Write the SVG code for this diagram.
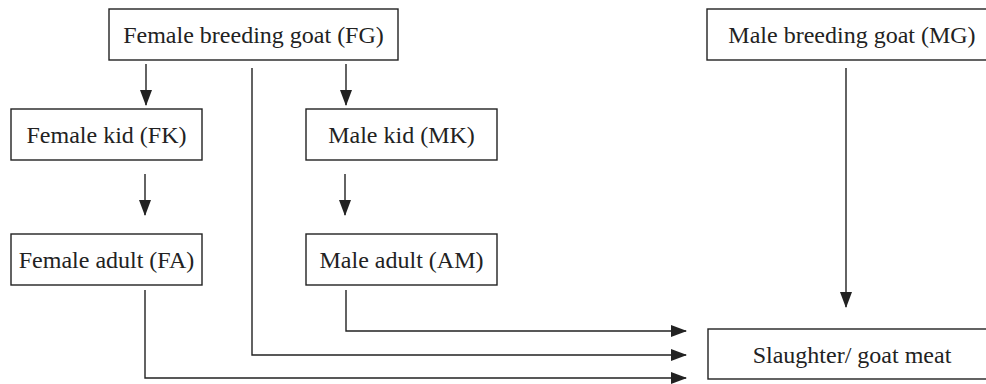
<svg xmlns="http://www.w3.org/2000/svg" width="986" height="384" viewBox="0 0 986 384">
<style>
.box{fill:#fff;stroke:#222;stroke-width:1.4}
.lbl{font-family:'Liberation Serif','DejaVu Serif',serif;font-size:24px;fill:#222;text-anchor:middle}
.con{fill:none;stroke:#222;stroke-width:1.4}
</style>
<defs>
<marker id="ah" markerUnits="userSpaceOnUse" markerWidth="16" markerHeight="12" refX="15" refY="6" orient="auto">
<path d="M0,0 L16,6 L0,12 z" fill="#222"/>
</marker>
</defs>
<rect width="986" height="384" fill="#fff"/>
<g id="connectors">
<path class="con" d="M146,64 V105" marker-end="url(#ah)"/>
<path class="con" d="M346,64 V105" marker-end="url(#ah)"/>
<path class="con" d="M145,174 V215" marker-end="url(#ah)"/>
<path class="con" d="M345,174 V215" marker-end="url(#ah)"/>
<path class="con" d="M252,68 V355 H686" marker-end="url(#ah)"/>
<path class="con" d="M346,290 V331 H686" marker-end="url(#ah)"/>
<path class="con" d="M145,290 V378 H686" marker-end="url(#ah)"/>
<path class="con" d="M846,68 V307" marker-end="url(#ah)"/>
</g>
<g id="FG"><rect class="box" x="109" y="9" width="289" height="51"/><text class="lbl" font-family="Liberation Serif" x="253.5" y="43">Female breeding goat (FG)</text></g>
<g id="MG"><rect class="box" x="707" y="9" width="300" height="51"/><text class="lbl" x="852" y="43">Male breeding goat (MG)</text></g>
<g id="FK"><rect class="box" x="11" y="109" width="191" height="51"/><text class="lbl" x="106.5" y="143">Female kid (FK)</text></g>
<g id="MK"><rect class="box" x="306" y="109" width="191" height="51"/><text class="lbl" x="401.5" y="143">Male kid (MK)</text></g>
<g id="FA"><rect class="box" x="11" y="234" width="191" height="51"/><text class="lbl" x="106.5" y="268">Female adult (FA)</text></g>
<g id="AM"><rect class="box" x="306" y="234" width="191" height="51"/><text class="lbl" x="401.5" y="268">Male adult (AM)</text></g>
<g id="SM"><rect class="box" x="708" y="329" width="300" height="50"/><text class="lbl" x="852" y="363">Slaughter/ goat meat</text></g>
</svg>
